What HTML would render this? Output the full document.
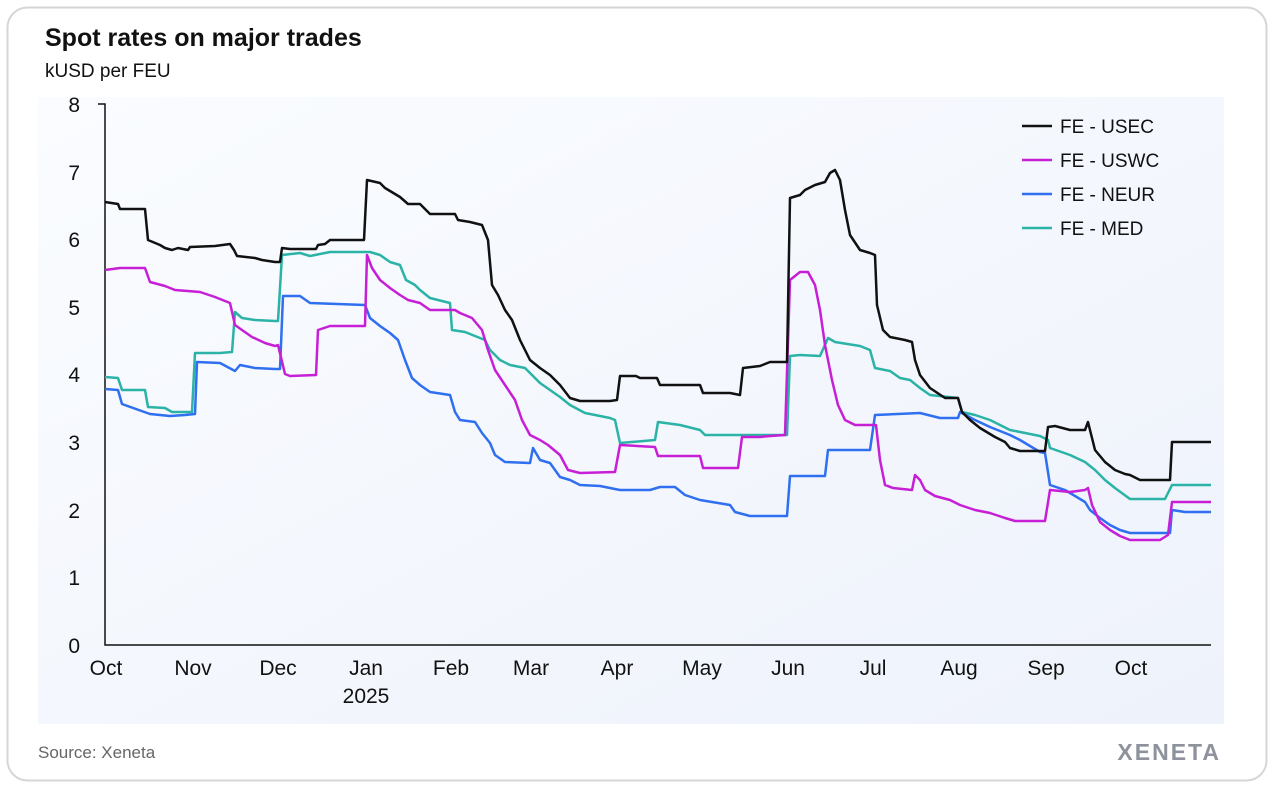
<!DOCTYPE html>
<html><head><meta charset="utf-8"><style>
body{margin:0;background:#fff;width:1279px;height:790px;overflow:hidden;font-family:"Liberation Sans",sans-serif}
</style></head><body>
<svg width="1279" height="790" viewBox="0 0 1279 790" xmlns="http://www.w3.org/2000/svg" font-family="Liberation Sans, sans-serif">
<defs><linearGradient id="g" x1="0" y1="0" x2="1" y2="1"><stop offset="0" stop-color="#fafcff"/><stop offset="1" stop-color="#eef2fb"/></linearGradient></defs>
<rect x="7.5" y="7.5" width="1259" height="773" rx="20" fill="#fff" stroke="#d6d6d6" stroke-width="2"/>
<text x="45" y="46" font-size="25" font-weight="bold" fill="#111">Spot rates on major trades</text>
<text x="45" y="77" font-size="19" fill="#111">kUSD per FEU</text>
<rect x="38" y="97" width="1186" height="627" fill="url(#g)"/>
<g font-size="21" fill="#111" text-anchor="end">
<text x="80" y="112">8</text><text x="80" y="180">7</text><text x="80" y="247">6</text><text x="80" y="315">5</text><text x="80" y="382">4</text><text x="80" y="450">3</text><text x="80" y="518">2</text><text x="80" y="585">1</text><text x="80" y="653">0</text>
</g>
<path d="M98,104H105V645H1211" fill="none" stroke="#111" stroke-width="1.5"/>
<g font-size="21" fill="#111" text-anchor="middle">
<text x="106" y="675">Oct</text><text x="193" y="675">Nov</text><text x="278" y="675">Dec</text><text x="366" y="675">Jan</text><text x="366" y="703">2025</text><text x="451" y="675">Feb</text><text x="531" y="675">Mar</text><text x="617" y="675">Apr</text><text x="702" y="675">May</text><text x="788" y="675">Jun</text><text x="873" y="675">Jul</text><text x="959" y="675">Aug</text><text x="1046" y="675">Sep</text><text x="1131" y="675">Oct</text>
</g>
<g fill="none" stroke-width="2.5" stroke-linejoin="round">
<polyline stroke="#2ab3a6" points="105,377 118,378 122,390 145,390 148,407 165,408 172,412 192,412 195,353 220,353 232,352 235,312 242,318 255,320 275,321 278,321 282,255 300,253 310,256 330,252 365,252 370,252 380,255 390,262 400,265 406,280 415,285 420,290 430,298 450,303 452,330 465,332 475,336 485,340 490,350 500,360 510,365 525,368 540,383 550,390 560,397 570,405 585,413 610,418 615,420 620,443 655,440 658,422 680,425 700,430 705,435 787,435 790,356 800,355 820,356 828,338 835,342 860,346 870,350 875,368 890,371 900,378 910,380 920,388 930,395 958,398 962,412 975,415 990,420 1010,430 1040,436 1048,440 1050,448 1070,455 1085,462 1095,470 1105,480 1115,488 1130,499 1165,499 1172,485 1211,485"/>
<polyline stroke="#2f6ff0" points="105,389 118,390 122,404 150,414 170,416 185,415 195,414 197,362 220,363 235,371 240,365 255,368 275,369 280,369 283,296 300,296 310,303 365,305 370,318 380,326 390,333 398,340 405,360 412,378 420,385 430,392 450,395 455,412 460,420 475,422 482,433 490,443 495,455 505,462 530,463 533,448 540,460 550,463 560,477 570,480 580,485 600,486 620,490 650,490 660,487 675,487 685,495 700,500 730,505 735,512 750,516 787,516 790,476 825,476 828,450 870,450 875,415 920,413 940,418 958,418 960,412 975,420 990,427 1010,435 1020,440 1040,452 1045,453 1050,485 1065,490 1075,496 1085,502 1090,510 1100,518 1110,525 1120,530 1130,533 1170,533 1172,510 1185,512 1211,512"/>
<polyline stroke="#c61fd6" points="105,270 120,268 145,268 150,282 165,286 175,290 200,292 215,297 230,303 235,325 242,330 252,337 265,343 275,346 278,345 285,374 290,376 316,375 318,330 330,326 365,326 367,255 372,268 380,280 390,288 400,295 408,300 420,303 430,310 455,310 460,313 472,318 482,330 488,350 495,370 505,385 515,400 522,420 530,435 540,440 548,445 560,455 568,470 580,473 615,472 620,445 655,447 658,456 700,456 703,468 738,468 742,437 760,437 770,436 785,435 790,280 800,272 808,272 815,285 820,310 825,345 832,380 838,405 845,420 855,425 870,425 876,425 880,460 885,485 893,488 912,490 915,475 920,480 925,490 935,496 950,500 960,505 975,510 990,513 1005,518 1015,521 1045,521 1050,490 1070,492 1085,490 1088,488 1092,505 1100,522 1110,530 1120,536 1130,540 1160,540 1168,535 1172,502 1211,502"/>
<polyline stroke="#111" points="105,202 118,204 120,209 145,209 148,240 160,245 165,248 172,250 178,248 188,250 190,247 215,246 230,244 234,250 237,256 255,258 262,260 275,262 280,262 282,248 290,249 316,249 318,245 325,244 330,240 360,240 364,240 367,180 380,183 385,188 400,197 408,204 420,204 430,214 455,214 458,220 470,222 482,225 488,240 492,285 498,295 505,310 512,320 520,340 530,360 540,368 550,375 560,385 570,398 580,401 610,401 617,400 620,376 636,376 640,378 657,378 660,385 700,385 703,393 730,393 740,395 743,368 760,366 770,362 787,362 790,198 800,195 805,190 815,185 825,182 830,173 835,170 840,180 845,210 850,235 860,250 870,253 875,255 877,305 883,330 890,337 905,340 912,342 915,360 920,375 930,388 945,398 958,398 962,412 970,420 980,428 995,437 1005,442 1010,448 1020,451 1045,451 1048,427 1055,426 1070,430 1085,430 1088,422 1090,430 1095,450 1105,462 1115,470 1125,474 1130,475 1140,480 1170,480 1172,442 1211,442"/>
</g>
<g stroke-width="2.5">
<line x1="1022" y1="126" x2="1052" y2="126" stroke="#111"/>
<line x1="1022" y1="160" x2="1052" y2="160" stroke="#c61fd6"/>
<line x1="1022" y1="194" x2="1052" y2="194" stroke="#2f6ff0"/>
<line x1="1022" y1="228" x2="1052" y2="228" stroke="#2ab3a6"/>
</g>
<g font-size="19" fill="#111">
<text x="1060" y="133">FE - USEC</text><text x="1060" y="167">FE - USWC</text><text x="1060" y="201">FE - NEUR</text><text x="1060" y="235">FE - MED</text>
</g>
<text x="38" y="758" font-size="17" fill="#666">Source: Xeneta</text>
<text x="1221" y="760" font-size="23" font-weight="bold" fill="#8d929c" text-anchor="end" letter-spacing="2">XENETA</text>
</svg>
</body></html>
